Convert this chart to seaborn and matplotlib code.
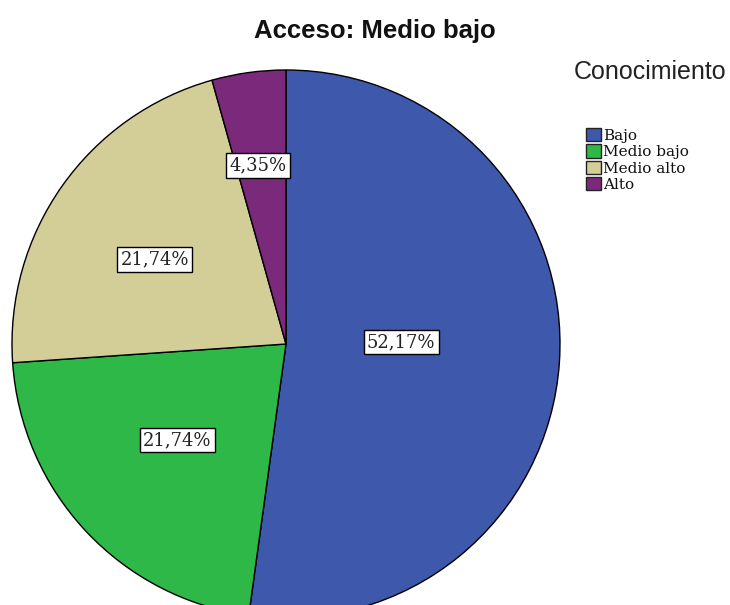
import numpy as np
import matplotlib
matplotlib.use("Agg")
import matplotlib.pyplot as plt
import seaborn as sns
from matplotlib.patches import Patch

# Distribution of "Conocimiento" for access level "Medio bajo"
categories = ["Bajo", "Medio bajo", "Medio alto", "Alto"]
percentages = [52.17, 21.74, 21.74, 4.35]
colors = ["#3e58ac", "#2eb848", "#d3ce97", "#7b2a7b"]

sns.set_theme(style="white")
plt.rcParams["font.family"] = ["Liberation Sans", "DejaVu Sans"]

palette = sns.color_palette(colors)
serif = ["DejaVu Serif", "Liberation Serif"]

W, H = 730, 605
fig = plt.figure(figsize=(W / 100, H / 100), dpi=100)
fig.patch.set_facecolor("white")

# pie axes: square in pixels, centred at (286, 344) with radius 274
r_px = 274
cx, cy = 286, 344
ax = fig.add_axes([(cx - r_px) / W, (H - cy - r_px) / H, 2 * r_px / W, 2 * r_px / H])

wedges, _ = ax.pie(
    percentages,
    colors=palette,
    startangle=90,
    counterclock=False,
    radius=1.0,
    wedgeprops=dict(edgecolor="black", linewidth=1.0),
)
ax.set_xlim(-1, 1)
ax.set_ylim(-1, 1)
ax.set_aspect("equal")
ax.axis("off")

# value labels placed around each wedge's mid-angle
label_dist = [0.42, 0.53, 0.57, 0.66]
label_turn = [4.9, -1.6, 2.5, 1.1]   # degrees added to the mid-angle
for w, pct, d, turn in zip(wedges, percentages, label_dist, label_turn):
    mid = np.deg2rad((w.theta1 + w.theta2) / 2 + turn)
    txt = f"{pct:.2f}%".replace(".", ",")
    ax.text(
        d * np.cos(mid), d * np.sin(mid), txt,
        ha="center", va="center", fontsize=13,
        family=serif, color="#222222",
        bbox=dict(boxstyle="square,pad=0.18", facecolor="white",
                  edgecolor="black", linewidth=1.0),
    )

fig.text(375 / W, 1 - 31 / H, "Acceso: Medio bajo", ha="center", va="center",
         fontsize=18.5, fontweight="bold", color="#111111")

fig.text(574 / W, 1 - 72 / H, "Conocimiento", ha="left", va="center",
         fontsize=18, color="#222222")

handles = [Patch(facecolor=c, edgecolor="#222222", linewidth=1.0) for c in palette]
leg = fig.legend(
    handles, categories,
    loc="upper left", bbox_to_anchor=(586 / W, 1 - 128 / H),
    frameon=False,
    prop=dict(family=serif, size=11),
    handlelength=0.95, handleheight=0.95, handletextpad=0.15,
    labelspacing=0.1, borderpad=0.0, borderaxespad=0.0,
)
for t in leg.get_texts():
    t.set_color("#111111")

fig.savefig("out.png", dpi=100, facecolor="white")
